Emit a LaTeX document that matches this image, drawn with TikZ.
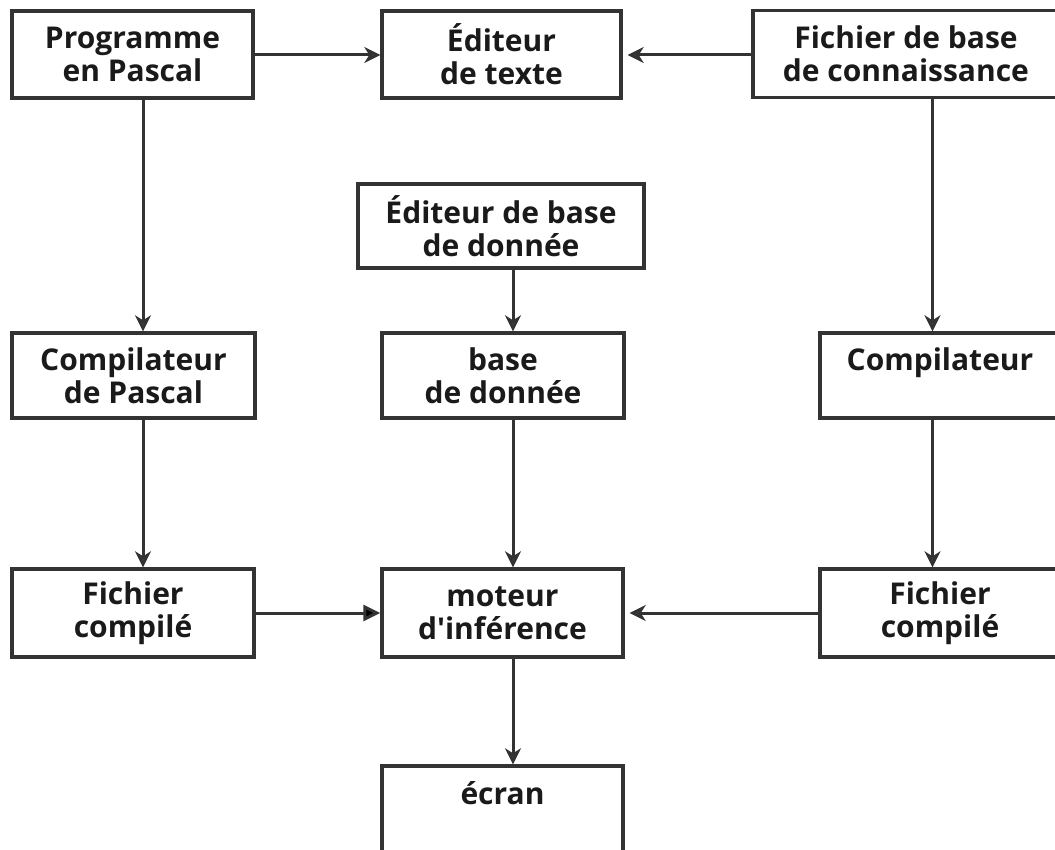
\documentclass[tikz,border=0pt]{standalone}
\usepackage{fontspec}
\setmainfont{Open Sans}
\usetikzlibrary{arrows.meta,calc}
\definecolor{ink}{HTML}{333333}
\definecolor{txt}{HTML}{1A1A1A}
\tikzset{
  box/.style={draw=ink, line width=3.4pt, rectangle, minimum height=87pt,
    inner sep=0pt, align=center, text=txt,
    font=\fontsize{30}{33}\selectfont\bfseries},
  flow/.style={draw=ink, line width=3pt,
    -{Stealth[length=16pt,width=16pt,inset=5pt,fill=ink!85]}},
  solidflow/.style={draw=ink, line width=3pt,
    -{Triangle[length=17pt,width=16pt,fill=black]}}
}
\begin{document}
\begin{tikzpicture}[x=1pt,y=-1pt]
  \useasboundingbox (0,0) rectangle (1055,850);
  \fill[white] (0,0) rectangle (1055,850);
  \clip (0,0) rectangle (1055,850);

  % top row
  \node[box, minimum width=241pt] (prog) at (132.5,54.5) {Programme\\en Pascal};
  \node[box, minimum width=239pt] (edit) at (501.5,54.5) {Éditeur\\de texte};
  \node[box, minimum width=306pt] (kbf)  at (906,54) {Fichier de base\\de connaissance};

  % database editor
  \node[box, minimum width=286pt, minimum height=84pt] (dbed) at (501,226) {Éditeur de base\\de donnée};

  % second row
  \node[box, minimum width=243pt, minimum height=85pt] (pcomp) at (133.5,375.5) {Compilateur\\de Pascal};
  \node[box, minimum width=242pt, minimum height=85pt] (db)    at (503,375.5) {base\\de donnée};
  \node[box, minimum width=240pt, minimum height=85pt] (comp)  at (940,375.5) {Compilateur\\\mbox{}};

  % third row
  \node[box, minimum width=242pt, minimum height=88pt] (fcl) at (133,613) {Fichier\\compilé};
  \node[box, minimum width=241pt, minimum height=88pt] (inf) at (502.5,613) {moteur\\d\textquotesingle inférence};
  \node[box, minimum width=240pt, minimum height=88pt] (fcr) at (940,613) {Fichier\\compilé};

  % output
  \node[box, minimum width=241pt, minimum height=88pt] (scr) at (502.5,810) {écran\\\mbox{}};

  % column guides for the vertical connectors
  \coordinate (colL) at (143,0);
  \coordinate (colM) at (513,0);
  \coordinate (colR) at (932.5,0);

  % horizontal connectors
  \draw[flow] (prog.east |- 0,55) -- (edit.west |- 0,55);
  \draw[flow, shorten >=5pt] (kbf.west |- 0,55) -- (edit.east |- 0,55);
  \draw[solidflow] (fcl.east) -- (inf.west);
  \draw[flow, shorten >=5pt] (fcr.west) -- (inf.east);

  % vertical connectors
  \draw[flow] (prog.south -| colL) -- (pcomp.north -| colL);
  \draw[flow] (pcomp.south -| colL) -- (fcl.north -| colL);
  \draw[flow] (kbf.south -| colR) -- (comp.north -| colR);
  \draw[flow] (comp.south -| colR) -- (fcr.north -| colR);
  \draw[flow] (dbed.south -| colM) -- (db.north -| colM);
  \draw[flow] (db.south -| colM) -- (inf.north -| colM);
  \draw[flow] (inf.south -| colM) -- (scr.north -| colM);
\end{tikzpicture}
\end{document}
